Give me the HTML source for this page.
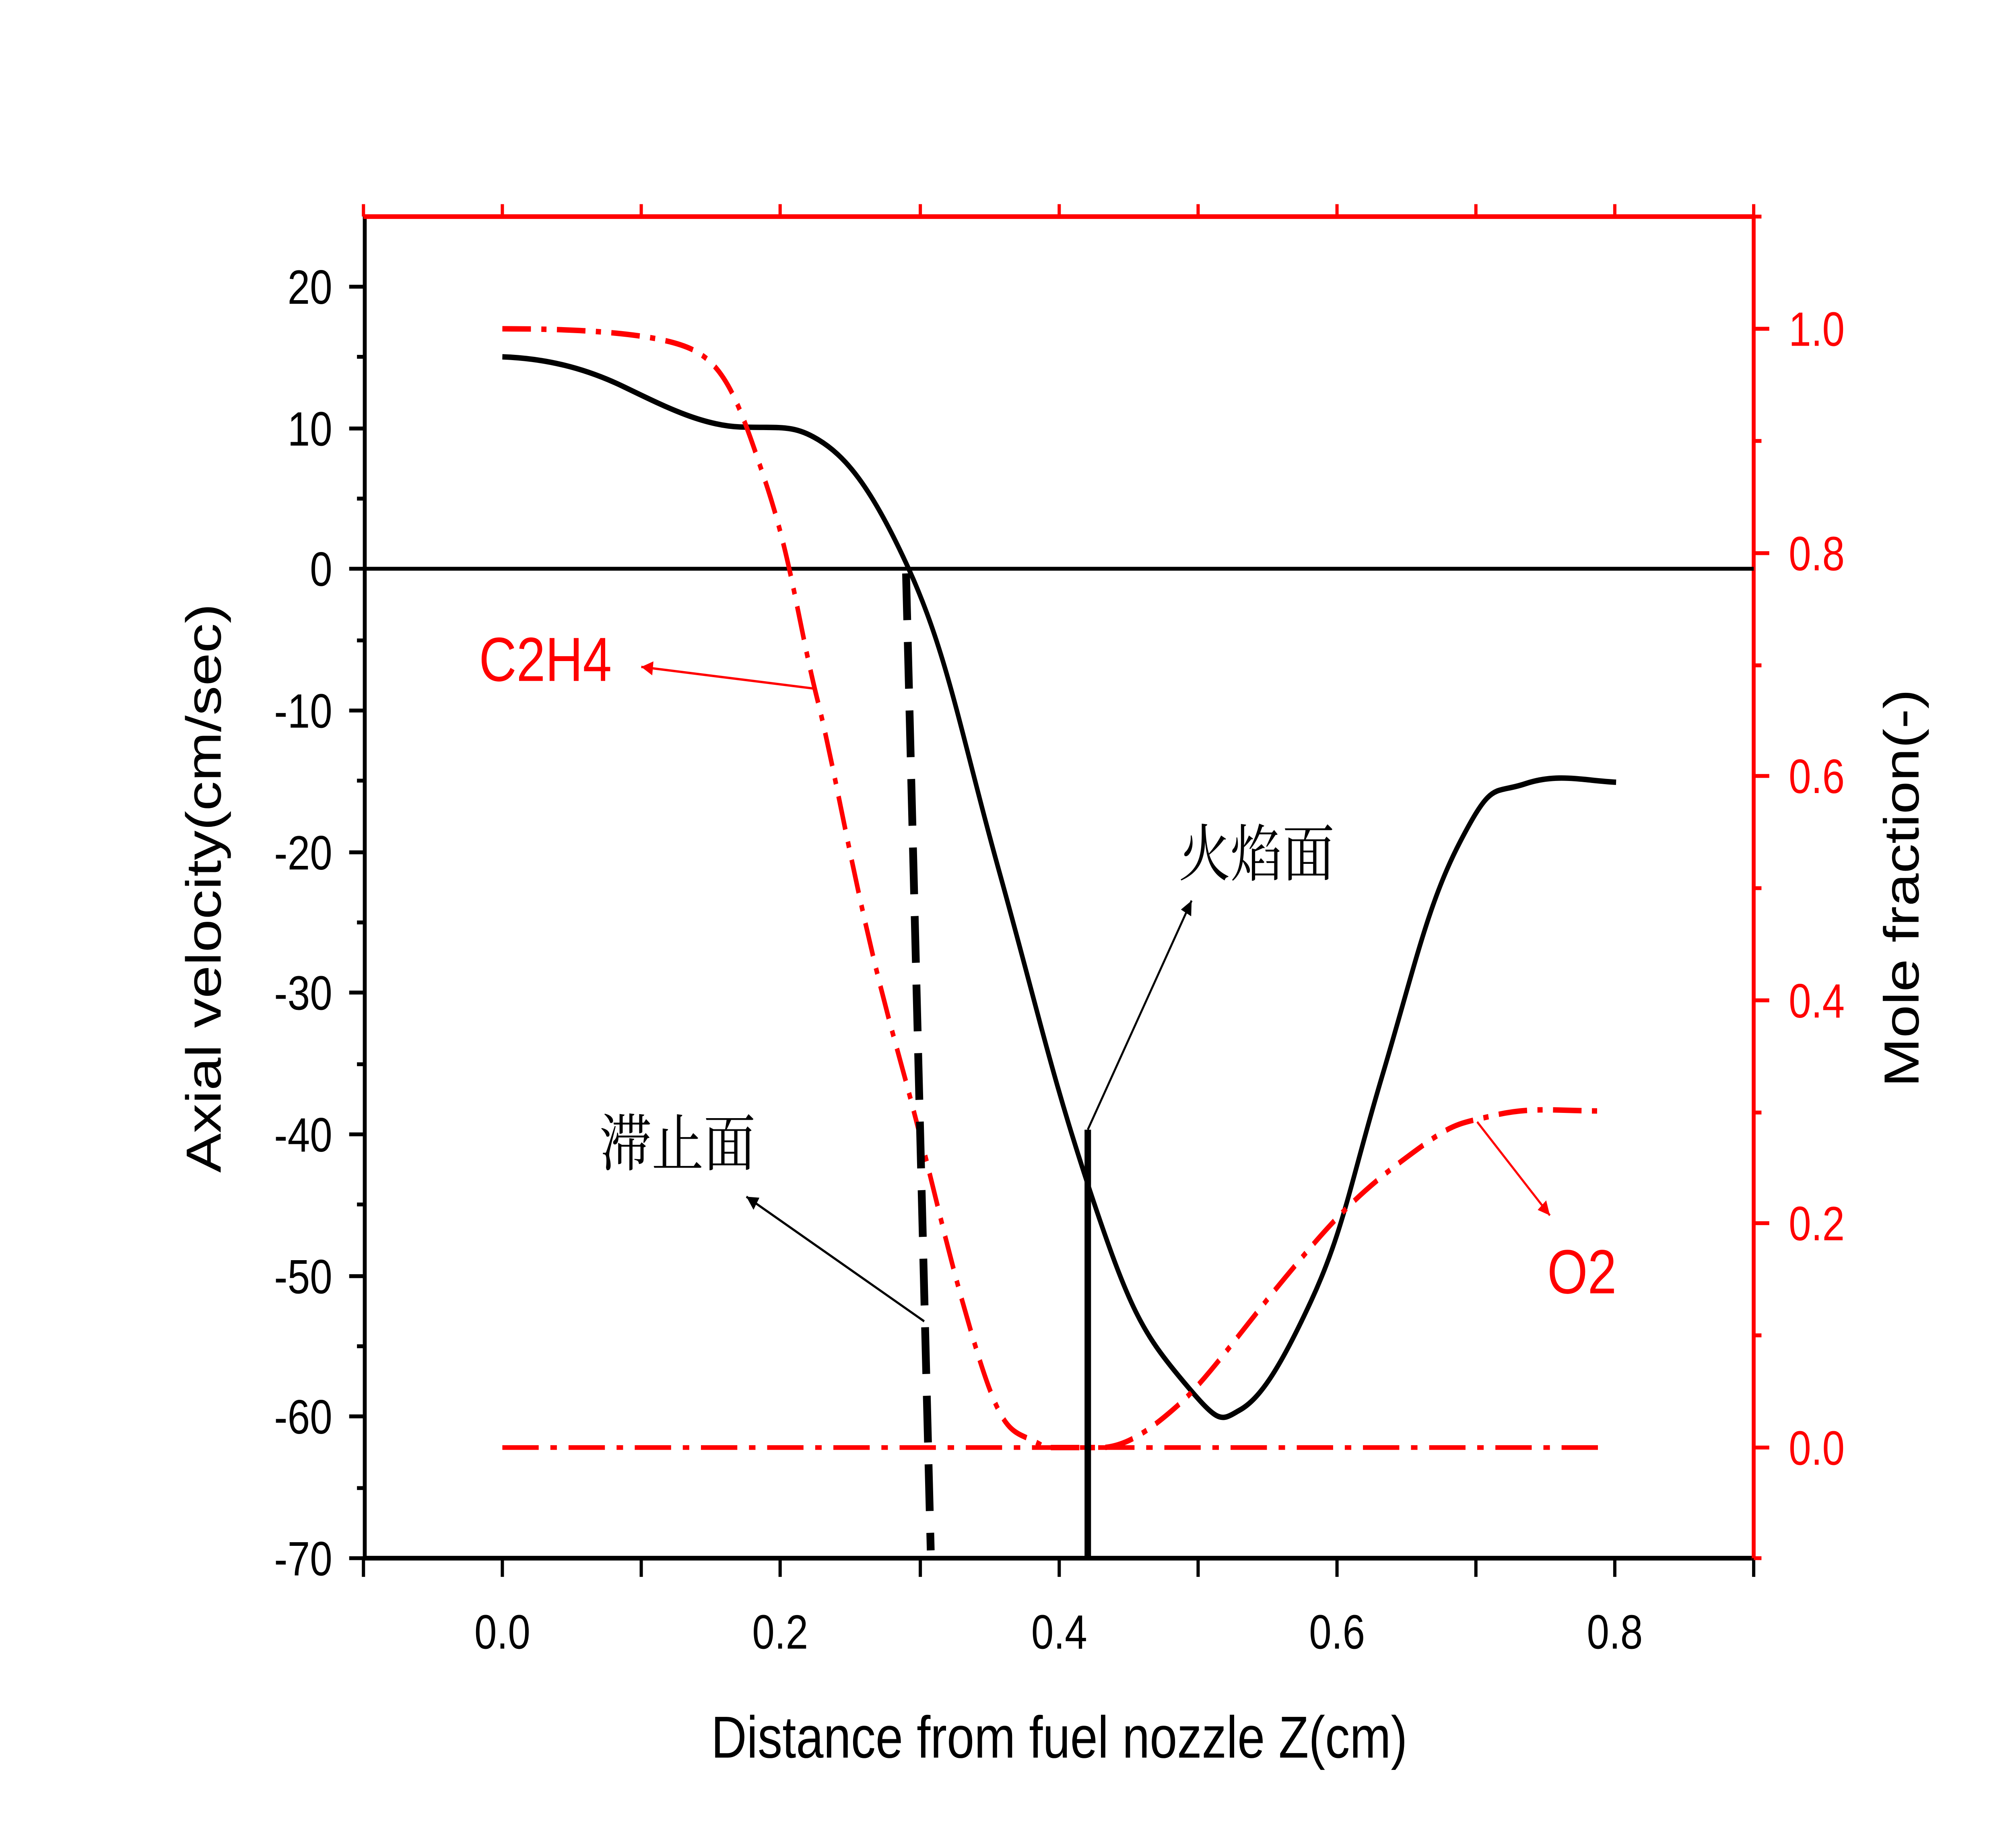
<!DOCTYPE html>
<html><head><meta charset="utf-8"><style>html,body{margin:0;padding:0;background:#fff;width:100%;height:100%;overflow:hidden}svg{display:block;position:fixed;left:0;top:0;width:100vw;height:100vh}</style></head>
<body>
<svg viewBox="0 0 1550 1186" preserveAspectRatio="none" xmlns="http://www.w3.org/2000/svg" font-family="Liberation Sans, sans-serif">
<rect width="1550" height="1186" fill="#fff"/>
<line x1="281" y1="139" x2="281" y2="1001" stroke="#000" stroke-width="3"/>
<line x1="280" y1="1000" x2="1352" y2="1000" stroke="#000" stroke-width="3"/>
<line x1="280" y1="139" x2="1352" y2="139" stroke="#f00" stroke-width="3"/>
<line x1="1351" y1="139" x2="1351" y2="1001" stroke="#f00" stroke-width="3"/>
<g stroke="#000" stroke-width="2.5">
<path d="M281 184h-12M281 275h-12M281 365h-12M281 456h-12M281 547h-12M281 637h-12M281 728h-12M281 819h-12M281 909h-12M281 1000h-12"/>
<path d="M281 229h-6M281 320h-6M281 411h-6M281 501h-6M281 592h-6M281 683h-6M281 773h-6M281 864h-6M281 955h-6"/>
<path d="M280 1000v12M387 1000v12M494 1000v12M601 1000v12M709 1000v12M816 1000v12M923 1000v12M1030 1000v12M1137 1000v12M1244 1000v12M1351 1000v12"/>
</g>
<g stroke="#f00" stroke-width="2.5">
<path d="M280 139v-8M387 139v-8M494 139v-8M601 139v-8M709 139v-8M816 139v-8M923 139v-8M1030 139v-8M1137 139v-8M1244 139v-8M1351 139v-8"/>
<path d="M1351 211h12M1351 355h12M1351 498h12M1351 642h12M1351 785h12M1351 929h12"/>
<path d="M1351 139h6M1351 283h6M1351 427h6M1351 570h6M1351 714h6M1351 857h6M1351 1000h6"/>
</g>
<g font-size="31" text-anchor="end" fill="#000">
<text x="256" y="195">20</text><text x="256" y="286">10</text><text x="256" y="376">0</text>
<text x="256" y="467">-10</text><text x="256" y="558">-20</text><text x="256" y="648">-30</text>
<text x="256" y="739">-40</text><text x="256" y="830">-50</text><text x="256" y="920">-60</text><text x="256" y="1011">-70</text>
</g>
<g font-size="31" fill="#f00">
<text x="1378" y="222">1.0</text><text x="1378" y="366">0.8</text><text x="1378" y="509">0.6</text>
<text x="1378" y="653">0.4</text><text x="1378" y="796">0.2</text><text x="1378" y="940">0.0</text>
</g>
<g font-size="31" text-anchor="middle" fill="#000">
<text x="387" y="1058">0.0</text><text x="601" y="1058">0.2</text><text x="816" y="1058">0.4</text>
<text x="1030" y="1058">0.6</text><text x="1244" y="1058">0.8</text>
</g>
<text x="816" y="1128" font-size="38" text-anchor="middle">Distance from fuel nozzle Z(cm)</text>
<text transform="translate(170,570) rotate(-90)" font-size="38" text-anchor="middle">Axial velocity(cm/sec)</text>
<text transform="translate(1478,570) rotate(-90)" font-size="38" text-anchor="middle">Mole fraction(-)</text>
<line x1="281" y1="365" x2="1351" y2="365" stroke="#000" stroke-width="2.5"/>
<path d="M387 229 C420 230 450 236 480 248 S540 273 570 274 S610 272 630 282 S670 310 700 365 S740 470 770 560 S810 690 840 765 S880 855 910 885 S940 912 955 905 S985 880 1010 835 S1040 760 1065 690 S1100 580 1125 540 S1150 510 1175 503 S1220 501 1245 502" fill="none" stroke="#000" stroke-width="3.5"/>
<path d="M387 211 C450 211 510 214 535 225 S570 260 590 310 S615 400 630 450 S660 580 690 670 S725 790 750 860 S780 915 805 929 L850 929 C870 928 890 915 910 900 S960 850 990 820 S1040 770 1080 745 S1120 722 1150 716 S1200 713 1235 713" fill="none" stroke="#f00" stroke-width="3.5" stroke-dasharray="22,8,4,8"/>
<line x1="387" y1="929" x2="1235" y2="929" stroke="#f00" stroke-width="3" stroke-dasharray="28,9,5,9"/>
<line x1="698" y1="368" x2="717" y2="995" stroke="#000" stroke-width="6" stroke-dasharray="30,14"/>
<line x1="838" y1="725" x2="838" y2="1000" stroke="#000" stroke-width="5"/>
<defs>
<marker id="ar" viewBox="0 0 10 10" refX="10" refY="5" markerWidth="9" markerHeight="9" orient="auto" markerUnits="userSpaceOnUse"><path d="M0 0L10 5L0 10z" fill="#f00"/></marker>
<marker id="ab" viewBox="0 0 10 10" refX="10" refY="5" markerWidth="9" markerHeight="9" orient="auto" markerUnits="userSpaceOnUse"><path d="M0 0L10 5L0 10z" fill="#000"/></marker>
</defs>
<line x1="628" y1="442" x2="494" y2="428" stroke="#f00" stroke-width="1.5" marker-end="url(#ar)"/>
<line x1="1138" y1="720" x2="1194" y2="780" stroke="#f00" stroke-width="1.5" marker-end="url(#ar)"/>
<line x1="838" y1="725" x2="918" y2="578" stroke="#000" stroke-width="1.5" marker-end="url(#ab)"/>
<line x1="712" y1="848" x2="575" y2="768" stroke="#000" stroke-width="1.5" marker-end="url(#ab)"/>
<text x="369" y="437" font-size="40" fill="#f00">C2H4</text>
<text x="1192" y="830" font-size="40" fill="#f00">O2</text>
<text x="908" y="562" font-size="40" font-family="Noto Serif CJK SC, serif">火焰面</text>
<text x="462" y="748" font-size="40" font-family="Noto Serif CJK SC, serif">滞止面</text>
</svg>
</body></html>
